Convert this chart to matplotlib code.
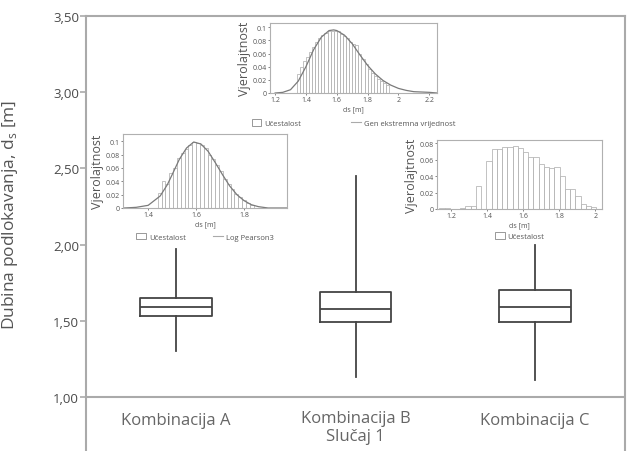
import matplotlib
matplotlib.use("Agg")
import matplotlib.pyplot as plt
from matplotlib.patches import Patch
from matplotlib.lines import Line2D
import numpy as np

plt.rcParams['font.family'] = ['Open Sans', 'DejaVu Sans']

# ---- main box plot data ----
categories = ["Kombinacija A", "Kombinacija B\nSlučaj 1", "Kombinacija C"]
whis_low = [1.30, 1.13, 1.11]
q1 = [1.53, 1.49, 1.49]
median = [1.59, 1.58, 1.59]
q3 = [1.65, 1.69, 1.70]
whis_high = [1.97, 2.45, 2.00]
y_ticks = [1.0, 1.5, 2.0, 2.5, 3.0, 3.5]
y_tick_labels = ["1,00", "1,50", "2,00", "2,50", "3,00", "3,50"]

# ---- inset 1: Gen ekstremna vrijednost ----
h1_left = 1.34
h1_width = 0.02
h1_heights = [0.029, 0.040, 0.049, 0.055, 0.062, 0.070, 0.078, 0.084, 0.088, 0.092,
              0.094, 0.095, 0.095, 0.094, 0.090, 0.087, 0.084, 0.078, 0.074, 0.073,
              0.060, 0.052, 0.044, 0.036, 0.030, 0.026, 0.022, 0.018, 0.015, 0.012]
c1_x = [1.20, 1.25, 1.30, 1.35, 1.40, 1.45, 1.50, 1.55, 1.58, 1.60, 1.65, 1.70,
        1.75, 1.80, 1.85, 1.90, 1.95, 2.00, 2.05, 2.10, 2.20, 2.25]
c1_y = [0.000, 0.001, 0.005, 0.018, 0.040, 0.066, 0.085, 0.095, 0.096, 0.095, 0.088, 0.075,
        0.058, 0.042, 0.029, 0.019, 0.012, 0.007, 0.004, 0.002, 0.001, 0.000]
i1_xticks = [1.2, 1.4, 1.6, 1.8, 2.0, 2.2]
i1_xlabels = ["1.2", "1.4", "1.6", "1.8", "2", "2.2"]
i1_yticks = [0, 0.02, 0.04, 0.06, 0.08, 0.1]
i1_ylabels = ["0", "0.02", "0.04", "0.06", "0.08", "0.1"]

# ---- inset 2: Log Pearson3 ----
h2_left = 1.44
h2_width = 0.016
h2_heights = [0.022, 0.040, 0.036, 0.052, 0.060, 0.075, 0.083, 0.088, 0.094, 0.099,
              0.098, 0.094, 0.090, 0.080, 0.074, 0.064, 0.055, 0.044, 0.036, 0.028,
              0.021, 0.017, 0.012, 0.008, 0.005]
c2_x = [1.30, 1.35, 1.40, 1.45, 1.48, 1.50, 1.53, 1.56, 1.59, 1.62, 1.65, 1.68, 1.71,
        1.74, 1.77, 1.80, 1.83, 1.86, 1.90, 1.98]
c2_y = [0.000, 0.001, 0.004, 0.018, 0.035, 0.050, 0.073, 0.090, 0.099, 0.096, 0.085, 0.068,
        0.050, 0.033, 0.020, 0.011, 0.005, 0.002, 0.000, 0.000]
i2_xticks = [1.4, 1.6, 1.8]
i2_xlabels = ["1.4", "1.6", "1.8"]
i2_yticks = [0, 0.02, 0.04, 0.06, 0.08, 0.1]
i2_ylabels = ["0", "0.02", "0.04", "0.06", "0.08", "0.1"]

# ---- inset 3: Učestalost only ----
h3_left = 1.135
h3_width = 0.029
h3_heights = [0.001, 0.001, 0.000, 0.000, 0.001, 0.004, 0.004, 0.028, 0.000, 0.058,
              0.073, 0.073, 0.076, 0.076, 0.077, 0.075, 0.070, 0.063, 0.064, 0.055,
              0.051, 0.050, 0.051, 0.040, 0.024, 0.024, 0.016, 0.006, 0.004, 0.003]
i3_xticks = [1.2, 1.4, 1.6, 1.8, 2.0]
i3_xlabels = ["1.2", "1.4", "1.6", "1.8", "2"]
i3_yticks = [0, 0.02, 0.04, 0.06, 0.08]
i3_ylabels = ["0", "0.02", "0.04", "0.06", "0.08"]

TXT = "#555555"
SPINE = "#aaaaaa"
BOX = "#444444"

fig = plt.figure(figsize=(6.28, 4.52), dpi=100)
ax = fig.add_axes([86/628, 0.0, (625-86)/628, 1-17/452])

stats = []
for i in range(len(categories)):
    stats.append(dict(whislo=whis_low[i], q1=q1[i], med=median[i], q3=q3[i],
                      whishi=whis_high[i], fliers=[]))
ax.bxp(stats, positions=[1, 2, 3], widths=0.4, showcaps=False, showfliers=False,
       boxprops=dict(color=BOX, linewidth=1.3),
       whiskerprops=dict(color=BOX, linewidth=1.3),
       medianprops=dict(color=BOX, linewidth=1.3))

ax.set_xlim(0.5, 3.5)
ax.set_ylim(3.5 - (452-17)/152.4, 3.5)
ax.set_yticks(y_ticks)
ax.set_yticklabels(y_tick_labels, color="#4a4a4a", fontsize=9.5)
ax.set_xticks([])
ax.tick_params(axis='y', length=4, color=SPINE, width=1.2, pad=1)
for s in ['left', 'right', 'top']:
    ax.spines[s].set_color(SPINE)
    ax.spines[s].set_linewidth(1.5)
ax.spines['bottom'].set_visible(False)
ax.axhline(1.0, color=SPINE, linewidth=1.5)
label_y = [0.849, 0.803, 0.849]
for i, c in enumerate(categories):
    ax.text(i + 1, label_y[i], c, ha='center', va='center', color="#666666", fontsize=12,
            linespacing=1.15)
ax.set_ylabel("Dubina podlokavanja, d$_\\mathregular{s}$ [m]", color=TXT, fontsize=12.5)
ax.yaxis.set_label_coords(-0.122, 0.545)


def inset(rect, left, width, heights, xlim, ylim, xticks, xlabels, yticks, ylabels,
          cx=None, cy=None, curve_label=None, colsp=4.0, leg_y=-0.27):
    a = fig.add_axes(rect)
    edges = [left + width * k for k in range(len(heights))]
    a.bar(edges, heights, width=width, align='edge', facecolor='none',
          edgecolor='#b8b8b8', linewidth=0.6)
    if cx is not None:
        a.plot(cx, cy, color='#7a7a7a', linewidth=0.9)
    a.set_xlim(*xlim)
    a.set_ylim(*ylim)
    a.set_xticks(xticks)
    a.set_xticklabels(xlabels, fontsize=5, color=TXT)
    a.set_yticks(yticks)
    a.set_yticklabels(ylabels, fontsize=5, color=TXT)
    a.tick_params(length=1.5, width=0.5, pad=1, colors=TXT)
    for s in a.spines.values():
        s.set_color('#b0b0b0')
        s.set_linewidth(0.8)
    a.set_xlabel("ds [m]", fontsize=5, color=TXT, labelpad=1)
    a.set_ylabel("Vjerolajtnost", fontsize=9, color=TXT, labelpad=1)
    handles = [Patch(facecolor='white', edgecolor='#888888', linewidth=0.6, label="Učestalost")]
    if curve_label:
        handles.append(Line2D([0], [0], color='#aaaaaa', linewidth=0.8, label=curve_label))
    a.legend(handles=handles, loc='upper center', bbox_to_anchor=(0.5, leg_y),
             ncol=len(handles), frameon=False, fontsize=5.5, handlelength=1.3,
             handleheight=1.0, columnspacing=colsp, handletextpad=0.4, labelcolor=TXT,
             borderaxespad=0)
    return a


inset([270/628, 1-94/452, 167/628, 70/452], h1_left, h1_width, h1_heights,
      (1.167, 2.25), (0, 0.1065), i1_xticks, i1_xlabels, i1_yticks, i1_ylabels,
      c1_x, c1_y, "Gen ekstremna vrijednost", colsp=6.5, leg_y=-0.33)
inset([123/628, 1-209/452, 164/628, 74/452], h2_left, h2_width, h2_heights,
      (1.295, 1.979), (0, 0.111), i2_xticks, i2_xlabels, i2_yticks, i2_ylabels,
      c2_x, c2_y, "Log Pearson3", colsp=3.5, leg_y=-0.29)
inset([437/628, 1-210/452, 165/628, 69/452], h3_left, h3_width, h3_heights,
      (1.122, 2.037), (0, 0.0842), i3_xticks, i3_xlabels, i3_yticks, i3_ylabels,
      leg_y=-0.29)

fig.savefig("out.png", dpi=100)
